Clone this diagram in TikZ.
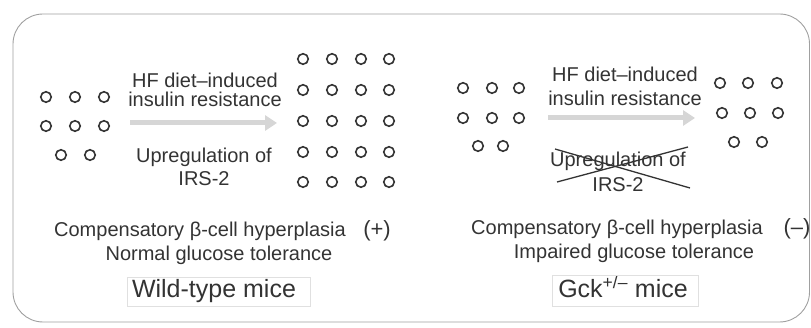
\documentclass[tikz,border=0pt]{standalone}
\usepackage{fontspec}
\setmainfont{Liberation Sans}
\usetikzlibrary{arrows.meta}
\definecolor{ink}{HTML}{333333}
\definecolor{arrowgray}{HTML}{D6D6D6}
\definecolor{framegray}{HTML}{A0A0A0}
\definecolor{tagline}{HTML}{E0E0E0}
\begin{document}
\begin{tikzpicture}[x=1pt,y=-1pt,
  cell/.style={circle, draw=ink, line width=1.6pt, minimum size=10.5pt, inner sep=0pt},
  lbl/.style={text=ink, font=\fontsize{20}{22}\selectfont, inner sep=0pt, anchor=base},
  sign/.style={text=ink, font=\fontsize{22}{24}\selectfont, inner sep=0pt, anchor=base},
  biglbl/.style={text=ink, font=\fontsize{25}{28}\selectfont, inner sep=0pt, anchor=base},
  flow/.style={draw=arrowgray, line width=5pt, -{Triangle[length=12pt,width=15pt]}},
  tagbox/.style={draw=tagline, line width=0.8pt},
  crossline/.style={draw=ink, line width=1.3pt}]
\useasboundingbox (0,0) rectangle (811,328);
\draw[framegray, line width=0.9pt, rounded corners=30pt] (13,14) rectangle (809.5,322);

% ---------- Wild-type: left islet ----------
\foreach \x/\y/\n in {46/97/a,75/97/b,104/97/c,46/126/d,75/126/e,104/126/f,61/155/g,90/155/h}
  \node[cell] (wl\n) at (\x,\y) {};
% ---------- Wild-type: right islet ----------
\foreach \r/\y in {1/59,2/90,3/121,4/152,5/182}
  \foreach \c/\x in {1/303,2/332,3/361,4/389}
    \node[cell] (wr\r\c) at (\x,\y) {};

\node[lbl] (w1) at (205,88) {HF diet–induced};
\node[lbl] (w2) at (205,107) {insulin resistance};
\coordinate (wa) at (130,123);
\coordinate (wb) at (277,123);
\draw[flow] (wa) -- (wb);
\node[lbl] (w3) at (204,163) {Upregulation of};
\node[lbl] (w4) at (204,186) {IRS-2};
\node[lbl] (w5) at (200,237) {Compensatory β-cell hyperplasia};
\node[sign] (w6) at (377,237) {(+)};
\node[lbl] (w7) at (219,261) {Normal glucose tolerance};
\node[biglbl] (w8) at (214,298) {Wild-type mice};
\draw[tagbox] (127,277) rectangle (310,306);

% ---------- Gck+/-: left islet ----------
\foreach \x/\y/\n in {463/88/a,492/88/b,519/88/c,463/118/d,492/118/e,519/118/f,478/146/g,503/146/h}
  \node[cell] (gl\n) at (\x,\y) {};
% ---------- Gck+/-: right islet ----------
\foreach \x/\y/\n in {720/83/a,748/83/b,777/83/c,722/113/d,750/113/e,778/113/f,734/142/g,762/142/h}
  \node[cell] (gr\n) at (\x,\y) {};

\node[lbl] (g1) at (625,82) {HF diet–induced};
\node[lbl] (g2) at (625,106) {insulin resistance};
\coordinate (ga) at (548,118);
\coordinate (gb) at (695,118);
\draw[flow] (ga) -- (gb);
\node[lbl] (g3) at (618,167) {Upregulation of};
\node[lbl] (g4) at (618,192) {IRS-2};
\coordinate (x1) at (555,149);
\coordinate (x2) at (690,188);
\coordinate (x3) at (557,182);
\coordinate (x4) at (688,147);
\draw[crossline] (x1) -- (x2);
\draw[crossline] (x3) -- (x4);
\node[lbl] (g5) at (617,235) {Compensatory β-cell hyperplasia};
\node[sign] (g6) at (797,235) {(–)};
\node[lbl] (g7) at (634,259) {Impaired glucose tolerance};
\node[biglbl] (g8) at (623,298) {Gck\textsuperscript{+/–} mice};
\draw[tagbox] (552,275) rectangle (698,306);
\end{tikzpicture}
\end{document}
